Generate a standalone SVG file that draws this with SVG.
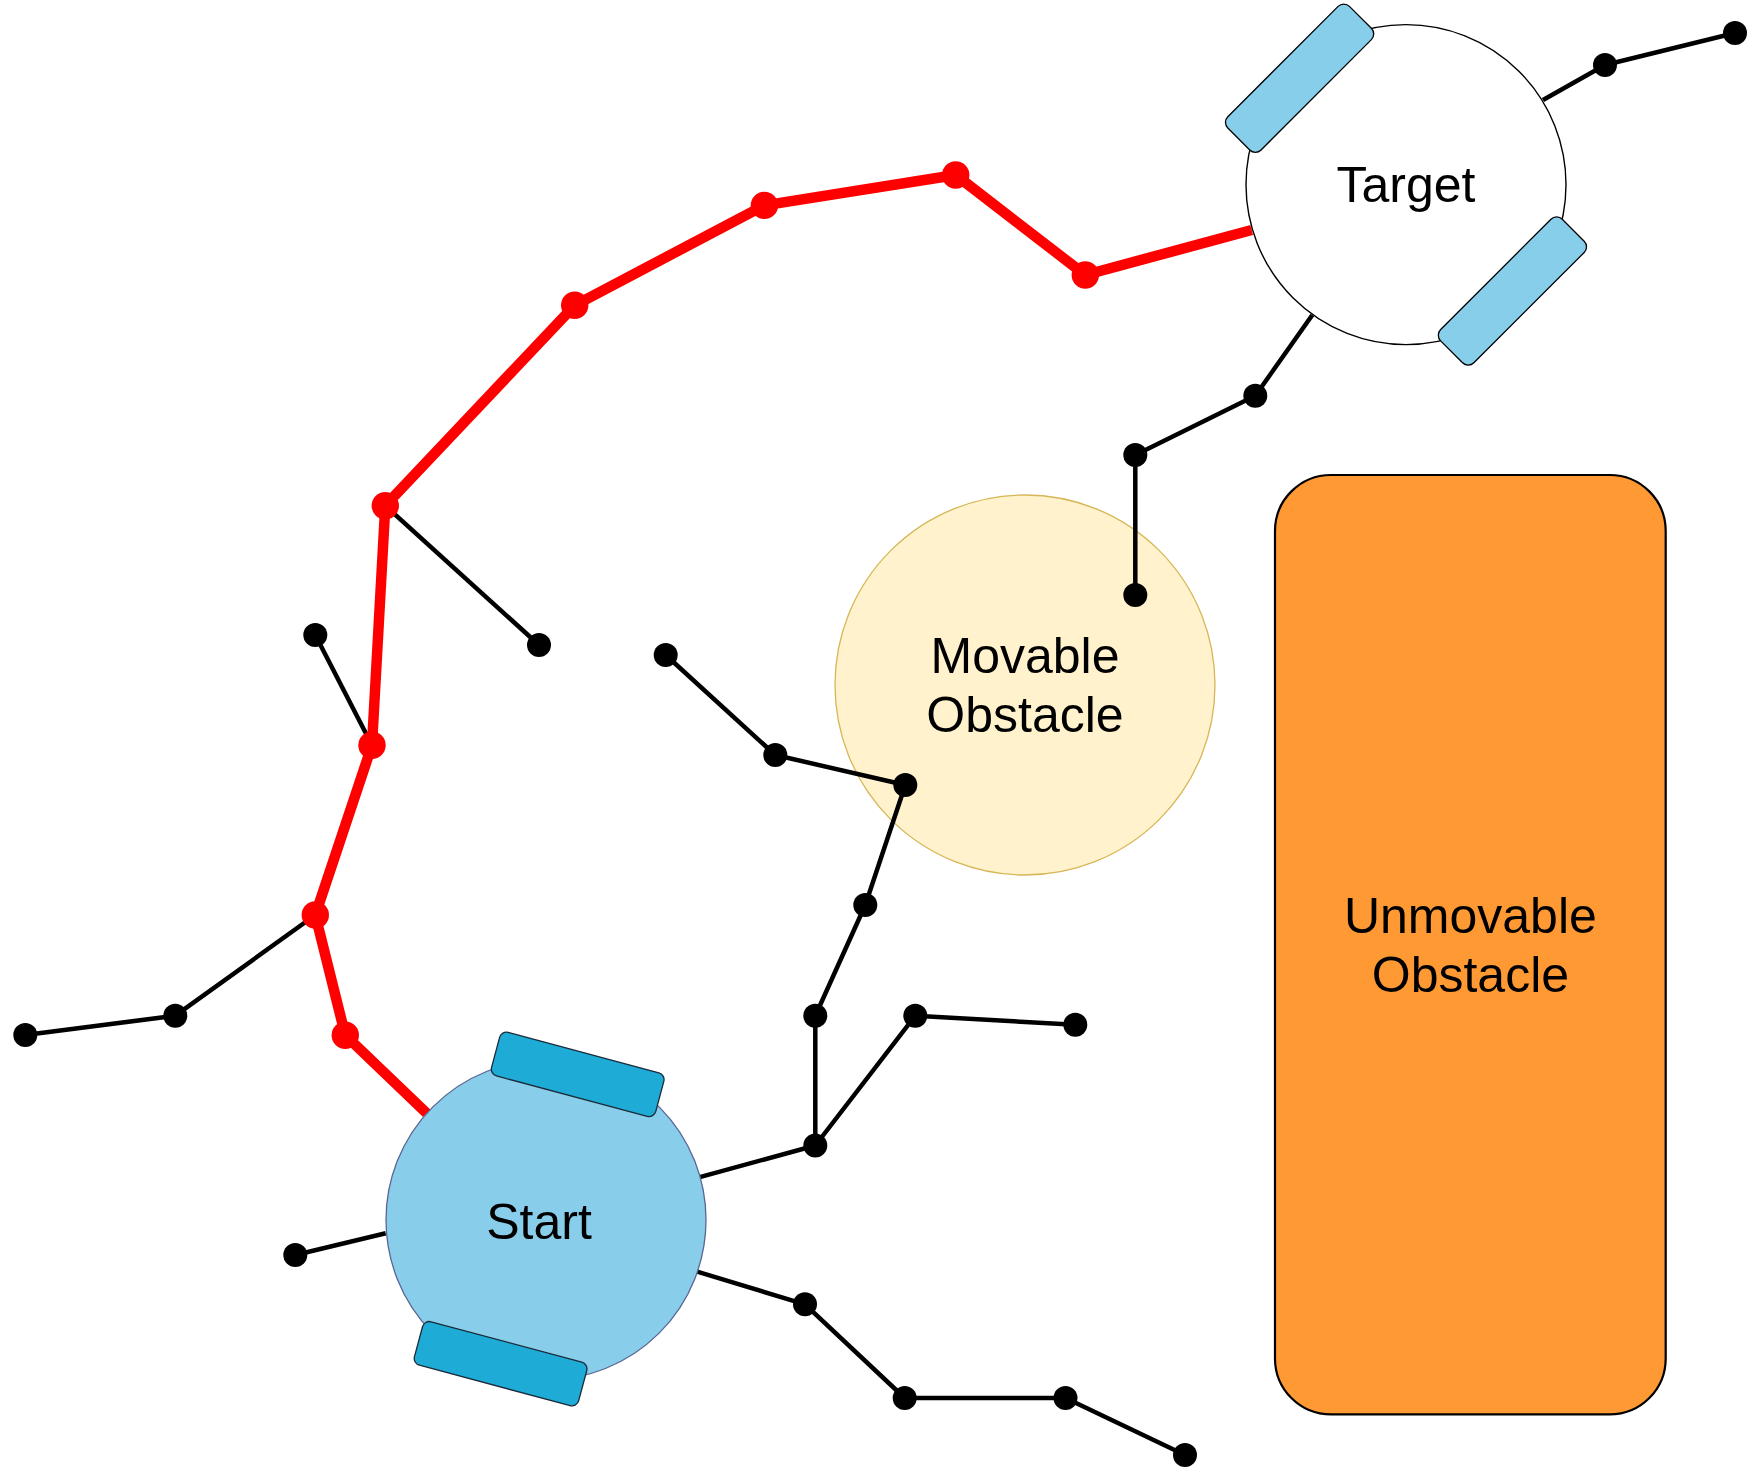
<svg xmlns="http://www.w3.org/2000/svg" width="1760" height="1481" viewBox="0 0 1760 1481">
<style>
.lbl{font-family:"Liberation Sans",Arial,sans-serif;font-size:50px;fill:#000;text-anchor:middle}
.tree{fill:none;stroke:#000;stroke-width:4.5;stroke-linejoin:round}
.path{fill:none;stroke:#FF0000;stroke-width:10.5;stroke-linejoin:round}
.dot{fill:#000}
.rdot{fill:#FF0000}
.trk{fill:#1EACD6;stroke:#1a2a3a;stroke-width:1.3}
.ttrk{fill:#87CEEB;stroke:#000;stroke-width:1.3}
</style>
<rect width="1760" height="1481" fill="#fff"/>
<g id="movable-obstacle">
<circle cx="1025" cy="685" r="190" fill="#FFF2CC" stroke="#D6B656" stroke-width="1.3"/>
<text class="lbl" x="1025" y="673">Movable</text>
<text class="lbl" x="1025" y="732">Obstacle</text>
</g>
<g id="unmovable-obstacle">
<rect x="1275" y="475" width="390.7" height="939.4" rx="56" ry="56" fill="#FF9933" stroke="#000" stroke-width="2.2"/>
<text class="lbl" x="1470.4" y="933">Unmovable</text>
<text class="lbl" x="1470.4" y="992">Obstacle</text>
</g>
<g id="connectors">
<polyline class="tree" points="385.3,505.7 539,645"/>
<polyline class="tree" points="372,745.3 315.3,635"/>
<polyline class="tree" points="315.3,915 175.3,1015.7 25.3,1035"/>
<polyline class="tree" points="385.7,1233.3 295.3,1255"/>
<polyline class="tree" points="698.9,1177.3 815.3,1145.5 815.3,1015.7 865.3,905 905.3,785 775.3,755 665.7,655"/>
<polyline class="tree" points="815.3,1145.5 915.3,1015.7 1075.3,1024.8"/>
<polyline class="tree" points="697.2,1271.7 805,1304.3 904.7,1398 1065.5,1398 1185,1455"/>
<polyline class="tree" points="1312.3,315 1255.3,395.7 1135.3,455 1135.3,595"/>
<polyline class="tree" points="1543,100 1605,65 1735,33"/>
<polyline class="path" points="426.7,1113.3 345.3,1035.3 315.3,915 372,745.3 385.3,505.7 574.7,305.3 764.4,205.4 955.7,175 1085.3,275 1251.7,230"/>
<g class="dot">
<circle cx="539" cy="645" r="12"/>
<circle cx="315.3" cy="635" r="12"/>
<circle cx="175.3" cy="1015.7" r="12"/>
<circle cx="25.3" cy="1035" r="12"/>
<circle cx="295.3" cy="1255" r="12"/>
<circle cx="815.3" cy="1145.5" r="12"/>
<circle cx="815.3" cy="1015.7" r="12"/>
<circle cx="865.3" cy="905" r="12"/>
<circle cx="905.3" cy="785" r="12"/>
<circle cx="775.3" cy="755" r="12"/>
<circle cx="665.7" cy="655" r="12"/>
<circle cx="915.3" cy="1015.7" r="12"/>
<circle cx="1075.3" cy="1024.8" r="12"/>
<circle cx="805" cy="1304.3" r="12"/>
<circle cx="904.7" cy="1398" r="12"/>
<circle cx="1065.5" cy="1398" r="12"/>
<circle cx="1185" cy="1455" r="12"/>
<circle cx="1255.3" cy="395.7" r="12"/>
<circle cx="1135.3" cy="455" r="12"/>
<circle cx="1135.3" cy="595" r="12"/>
<circle cx="1605" cy="65" r="12"/>
<circle cx="1735" cy="33" r="12"/>
</g>
<g class="rdot">
<circle cx="345.3" cy="1035.3" r="13.7"/>
<circle cx="315.3" cy="915" r="13.7"/>
<circle cx="372" cy="745.3" r="13.7"/>
<circle cx="385.3" cy="505.7" r="13.7"/>
<circle cx="574.7" cy="305.3" r="13.7"/>
<circle cx="764.4" cy="205.4" r="13.7"/>
<circle cx="955.7" cy="175" r="13.7"/>
<circle cx="1085.3" cy="275" r="13.7"/>
</g>
</g>
<g id="start">
<circle cx="546" cy="1220" r="160" fill="#88CDEA" stroke="#5a6594" stroke-width="1.3"/>
<rect class="trk" x="-85" y="-22.5" width="170" height="45" rx="7" transform="translate(577.7,1074.4) rotate(15)"/>
<rect class="trk" x="-85" y="-22.5" width="170" height="45" rx="7" transform="translate(500.6,1363.7) rotate(15)"/>
<text class="lbl" x="539" y="1239">Start</text>
</g>
<g id="target">
<circle cx="1406" cy="184.6" r="160" fill="#fff" stroke="#000" stroke-width="1.4"/>
<g transform="translate(1406,184.6) rotate(-45)">
<rect class="ttrk" x="-86" y="-174" width="172" height="47" rx="8"/>
<rect class="ttrk" x="-86" y="127" width="172" height="47" rx="8"/>
</g>
<text class="lbl" x="1406" y="202">Target</text>
</g>
</svg>
